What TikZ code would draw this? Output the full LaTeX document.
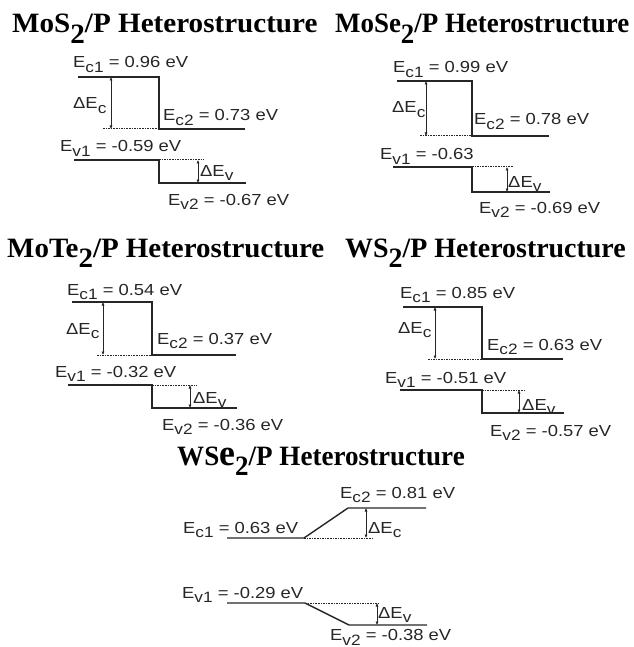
\documentclass[tikz,border=0pt]{standalone}
\usepackage{fontspec}
\usetikzlibrary{arrows.meta}
\newfontfamily\labfont[FakeStretch=1.15]{Liberation Sans}
\newfontfamily\titfont[FakeStretch=1.05]{Liberation Serif}
\newcommand\lsub[1]{\raisebox{-0.3em}{\fontsize{15}{15}\selectfont #1}}
\newcommand\tsub[1]{\raisebox{-0.36em}{#1}}
\colorlet{ink}{black!85}
\tikzset{
  lab/.style={anchor=base west, inner sep=0pt, text=ink, font=\labfont\fontsize{16}{16}\selectfont},
  ttl/.style={anchor=base west, inner sep=0pt, text=black, font=\titfont\bfseries\fontsize{28}{28}\selectfont},
  band/.style={draw=ink, line width=1.4pt},
  offs/.style={draw=ink, line width=1pt, dash pattern=on 1.6pt off 1pt},
  gap/.style={draw=ink, line width=0.8pt, {Latex[length=3.5pt,width=3.2pt]}-{Latex[length=3.5pt,width=3.2pt]}}
}
\begin{document}
\begin{tikzpicture}[x=1pt,y=-1pt]
\useasboundingbox (0,0) rectangle (633,647);

% ---------- Panel 1: MoS2 ----------
\node[ttl] (t1) at (12,33) {\scalebox{0.99}[1]{MoS\tsub{2}/P Heterostructure}};
\node[lab] (p1ec1) at (73,68) {E\lsub{c1} = 0.96 eV};
\node[lab] (p1dec) at (73,109) {ΔE\lsub{c}};
\node[lab] (p1ec2) at (163,121) {E\lsub{c2} = 0.73 eV};
\node[lab] (p1ev1) at (60,152) {E\lsub{v1} = -0.59 eV};
\node[lab] (p1dev) at (200,176) {ΔE\lsub{v}};
\node[lab] (p1ev2) at (168,205) {E\lsub{v2} = -0.67 eV};
\coordinate (p1a) at (78,77); \coordinate (p1b) at (159,77);
\coordinate (p1c) at (159,129); \coordinate (p1d) at (245,129);
\coordinate (p1e) at (103,129);
\coordinate (p1f) at (111,77); \coordinate (p1g) at (111,129);
\coordinate (p1h) at (74,160); \coordinate (p1i) at (159,160);
\coordinate (p1j) at (159,183); \coordinate (p1k) at (246,183);
\coordinate (p1l) at (204,160);
\coordinate (p1m) at (198,160); \coordinate (p1n) at (198,183);
\draw[band] (p1a) -- (p1b) -- (p1c) -- (p1d);
\draw[offs] (p1e) -- (p1c);
\draw[gap] (p1f) -- (p1g);
\draw[band] (p1h) -- (p1i) -- (p1j) -- (p1k);
\draw[offs] (p1i) -- (p1l);
\draw[gap] (p1m) -- (p1n);

% ---------- Panel 2: MoSe2 ----------
\node[ttl] (t2) at (335,33) {\scalebox{0.915}[1]{MoSe\tsub{2}/P Heterostructure}};
\node[lab] (p2ec1) at (393,73) {E\lsub{c1} = 0.99 eV};
\node[lab] (p2dec) at (392,113) {ΔE\lsub{c}};
\node[lab] (p2ec2) at (474,125) {E\lsub{c2} = 0.78 eV};
\node[lab] (p2ev1) at (380,160) {E\lsub{v1} = -0.63};
\node[lab] (p2dev) at (508,187) {ΔE\lsub{v}};
\node[lab] (p2ev2) at (479,213) {E\lsub{v2} = -0.69 eV};
\coordinate (p2a) at (397,81); \coordinate (p2b) at (472,81);
\coordinate (p2c) at (472,136); \coordinate (p2d) at (549,136);
\coordinate (p2e) at (420,136);
\coordinate (p2f) at (426,81); \coordinate (p2g) at (426,136);
\coordinate (p2h) at (393,167); \coordinate (p2i) at (472,167);
\coordinate (p2j) at (472,192); \coordinate (p2k) at (550,192);
\coordinate (p2l) at (513,167);
\coordinate (p2m) at (507,167); \coordinate (p2n) at (507,192);
\draw[band] (p2a) -- (p2b) -- (p2c) -- (p2d);
\draw[offs] (p2e) -- (p2c);
\draw[gap] (p2f) -- (p2g);
\draw[band] (p2h) -- (p2i) -- (p2j) -- (p2k);
\draw[offs] (p2i) -- (p2l);
\draw[gap] (p2m) -- (p2n);

% ---------- Panel 3: MoTe2 ----------
\node[ttl] (t3) at (7,257) {\scalebox{0.985}[1]{MoTe\tsub{2}/P Heterostructure}};
\node[lab] (p3ec1) at (67,295) {E\lsub{c1} = 0.54 eV};
\node[lab] (p3dec) at (66,334) {ΔE\lsub{c}};
\node[lab] (p3ec2) at (157,344) {E\lsub{c2} = 0.37 eV};
\node[lab] (p3ev1) at (55,377) {E\lsub{v1} = -0.32 eV};
\node[lab] (p3dev) at (193,403) {ΔE\lsub{v}};
\node[lab] (p3ev2) at (162,430) {E\lsub{v2} = -0.36 eV};
\coordinate (p3a) at (72,302); \coordinate (p3b) at (152,302);
\coordinate (p3c) at (152,355); \coordinate (p3d) at (236,355);
\coordinate (p3e) at (97,355);
\coordinate (p3f) at (103,302); \coordinate (p3g) at (103,355);
\coordinate (p3h) at (68,385); \coordinate (p3i) at (152,385);
\coordinate (p3j) at (152,408); \coordinate (p3k) at (237,408);
\coordinate (p3l) at (197,385);
\coordinate (p3m) at (190,385); \coordinate (p3n) at (190,408);
\draw[band] (p3a) -- (p3b) -- (p3c) -- (p3d);
\draw[offs] (p3e) -- (p3c);
\draw[gap] (p3f) -- (p3g);
\draw[band] (p3h) -- (p3i) -- (p3j) -- (p3k);
\draw[offs] (p3i) -- (p3l);
\draw[gap] (p3m) -- (p3n);

% ---------- Panel 4: WS2 ----------
\node[ttl] (t4) at (345,257) {\scalebox{0.95}[1]{WS\tsub{2}/P Heterostructure}};
\node[lab] (p4ec1) at (400,298) {E\lsub{c1} = 0.85 eV};
\node[lab] (p4dec) at (398,333) {ΔE\lsub{c}};
\node[lab] (p4ec2) at (487,350) {E\lsub{c2} = 0.63 eV};
\node[lab] (p4ev1) at (385,383) {E\lsub{v1} = -0.51 eV};
\node[lab] (p4dev) at (522,410) {ΔE\lsub{v}};
\node[lab] (p4ev2) at (490,436) {E\lsub{v2} = -0.57 eV};
\coordinate (p4a) at (403,307); \coordinate (p4b) at (482,307);
\coordinate (p4c) at (482,359); \coordinate (p4d) at (563,359);
\coordinate (p4e) at (428,359);
\coordinate (p4f) at (435,307); \coordinate (p4g) at (435,359);
\coordinate (p4h) at (400,390); \coordinate (p4i) at (482,390);
\coordinate (p4j) at (482,413); \coordinate (p4k) at (564,413);
\coordinate (p4l) at (525,390);
\coordinate (p4m) at (519,390); \coordinate (p4n) at (519,413);
\draw[band] (p4a) -- (p4b) -- (p4c) -- (p4d);
\draw[offs] (p4e) -- (p4c);
\draw[gap] (p4f) -- (p4g);
\draw[band] (p4h) -- (p4i) -- (p4j) -- (p4k);
\draw[offs] (p4i) -- (p4l);
\draw[gap] (p4m) -- (p4n);

% ---------- Panel 5: WSe2 ----------
\node[ttl] (t5) at (177,465) {\scalebox{0.92}[1]{WS{\fontsize{37}{37}\selectfont e}\tsub{2}/P Heterostructure}};
\node[lab] (p5ec2) at (340,498) {E\lsub{c2} = 0.81 eV};
\node[lab] (p5ec1) at (183,533) {E\lsub{c1} = 0.63 eV};
\node[lab] (p5dec) at (368,533) {ΔE\lsub{c}};
\node[lab] (p5ev1) at (182,598) {E\lsub{v1} = -0.29 eV};
\node[lab] (p5dev) at (378,618) {ΔE\lsub{v}};
\node[lab] (p5ev2) at (330,640.5) {E\lsub{v2} = -0.38 eV};
\coordinate (p5a) at (227,538); \coordinate (p5b) at (304,538);
\coordinate (p5c) at (348,508); \coordinate (p5d) at (426,508);
\coordinate (p5e) at (373,538);
\coordinate (p5f) at (366,508); \coordinate (p5g) at (366,538);
\coordinate (p5h) at (227,603); \coordinate (p5i) at (305,603);
\coordinate (p5j) at (349,625); \coordinate (p5k) at (427,625);
\coordinate (p5l) at (379,603);
\coordinate (p5m) at (377,603); \coordinate (p5n) at (377,625);
\draw[band] (p5a) -- (p5b) -- (p5c) -- (p5d);
\draw[offs] (p5b) -- (p5e);
\draw[gap] (p5f) -- (p5g);
\draw[band] (p5h) -- (p5i) -- (p5j) -- (p5k);
\draw[offs] (p5i) -- (p5l);
\draw[gap] (p5m) -- (p5n);
\end{tikzpicture}
\end{document}
